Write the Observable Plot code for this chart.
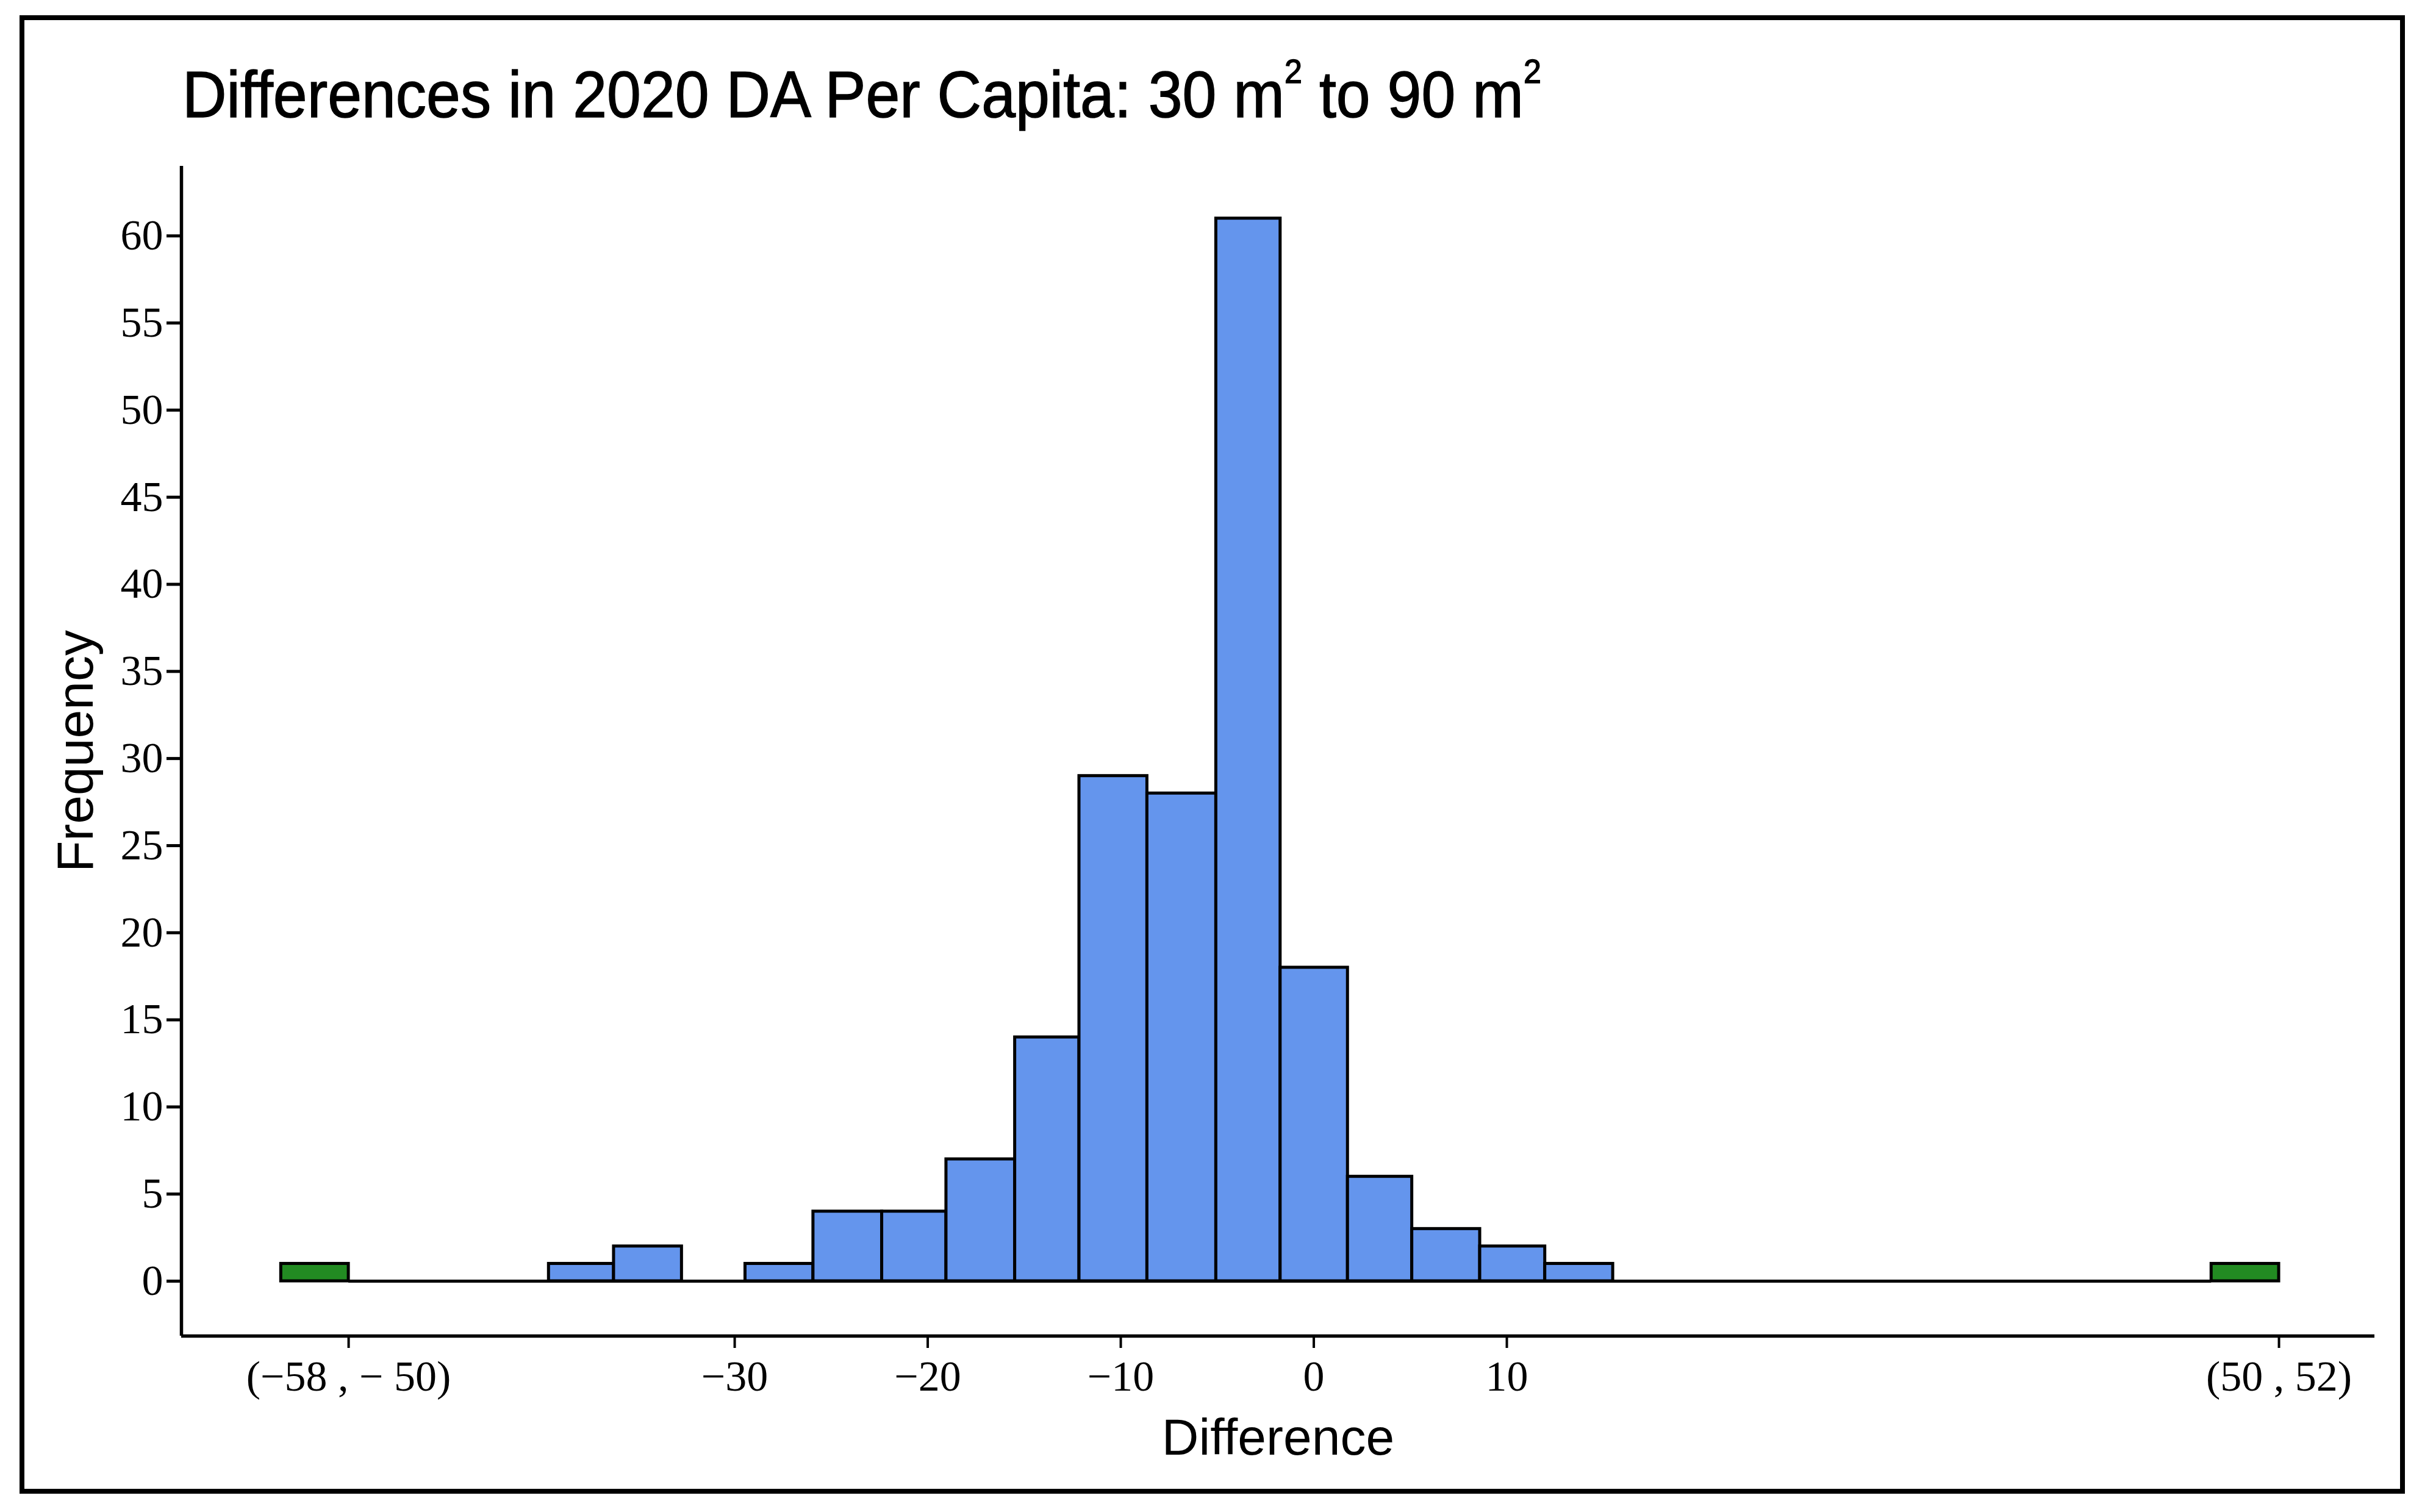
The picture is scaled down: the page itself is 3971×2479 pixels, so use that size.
<!DOCTYPE html>
<html>
<head>
<meta charset="utf-8">
<script src="https://cdn.jsdelivr.net/npm/d3@7"></script>
<script src="https://cdn.jsdelivr.net/npm/@observablehq/plot@0.6"></script>
<style>
  html, body { margin: 0; padding: 0; background: white; }
  #wrap { position: relative; width: 3971px; height: 2479px; overflow: hidden; background: white; }
  #chart { position: absolute; left: 0; top: 0; }
  #title {
    position: absolute; left: 299px; top: 101px;
    font-family: 'Liberation Sans', Arial, sans-serif; font-size: 108px; line-height: 1;
    white-space: nowrap; color: black;
    transform: scaleX(0.93); transform-origin: left top;
    -webkit-text-stroke: 1.5px black;
  }
  #title .sup { font-size: 56px; position: relative; top: -56px; }
  #border {
    position: absolute; left: 32px; top: 25px; width: 3911px; height: 2424px;
    box-sizing: border-box; border: 8px solid black; pointer-events: none;
  }
</style>
</head>
<body>
<div id="wrap">
  <div id="chart"></div>
  <div id="title">Differences in 2020 DA Per Capita: 30 m<span class="sup">2</span> to 90 m<span class="sup">2</span></div>
  <div id="border"></div>
</div>
<script>
// Histogram bin edges (main bins) and counts
const binEdges = [-39.63, -36.26, -32.74, -29.45, -25.93, -22.37, -19.04, -15.48, -12.15, -8.63, -5.06, -1.73, 1.76, 5.09, 8.61, 11.98, 15.50];
const binCounts = [1, 2, 0, 1, 4, 4, 7, 14, 29, 28, 61, 18, 6, 3, 2, 1];

// Outlier bins on the broken axis (green)
const outlierStarts = [-53.5, 46.5];
const outlierEnds = [-50, 50];
const outlierCounts = [1, 1];

// Axis ticks and labels
const xTickValues = [-50, -30, -20, -10, 0, 10, 50];
const xTickLabels = ["(\u221258 , \u2212 50)", "\u221230", "\u221220", "\u221210", "0", "10", "(50 , 52)"];
const yTickValues = [0, 5, 10, 15, 20, 25, 30, 35, 40, 45, 50, 55, 60];

const xDomain = [-58.66, 54.96];
const yDomain = [-3.15, 64];

const sans = "'Liberation Sans', Arial, sans-serif";

const plot = Plot.plot({
  width: 3971,
  height: 2479,
  marginLeft: 297,
  marginRight: 78,
  marginTop: 272,
  marginBottom: 289,
  style: "font-family: 'Liberation Serif', 'Times New Roman', serif; font-size: 70px; background: transparent;",
  x: { domain: xDomain },
  y: { domain: yDomain },
  marks: [
    // zero baseline between the two outlier bins
    Plot.ruleY([0], { x1: outlierEnds[0], x2: outlierStarts[1], stroke: "black", strokeWidth: 5 }),
    Plot.rectY(binCounts, {
      x1: (d, i) => binEdges[i],
      x2: (d, i) => binEdges[i + 1],
      y: d => d,
      fill: "#6495ED",
      stroke: "black",
      strokeWidth: 5
    }),
    Plot.rectY(outlierCounts, {
      x1: (d, i) => outlierStarts[i],
      x2: (d, i) => outlierEnds[i],
      y: d => d,
      fill: "#228B22",
      stroke: "black",
      strokeWidth: 5
    }),
    Plot.axisY({
      ticks: yTickValues,
      tickSize: 24,
      tickPadding: 6,
      fontSize: 70,
      strokeWidth: 5,
      label: null
    }),
    Plot.axisX({
      ticks: xTickValues,
      tickFormat: v => xTickLabels[xTickValues.indexOf(v)],
      tickSize: 20,
      tickPadding: 20,
      fontSize: 70,
      strokeWidth: 4,
      label: null
    }),
    Plot.ruleX([xDomain[0]], { stroke: "black", strokeWidth: 5.5 }),
    Plot.ruleY([yDomain[0]], { stroke: "black", strokeWidth: 5.5 }),
    Plot.text(["Difference"], {
      text: d => d,
      frameAnchor: "bottom",
      textAnchor: "middle",
      dy: 168,
      lineAnchor: "middle",
      fontFamily: sans,
      fontSize: 84,
      fill: "black"
    }),
    Plot.text(["Frequency"], {
      text: d => d,
      frameAnchor: "left",
      textAnchor: "middle",
      rotate: -90,
      dx: -172,
      lineAnchor: "middle",
      fontFamily: sans,
      fontSize: 84,
      fill: "black"
    })
  ]
});
document.getElementById("chart").appendChild(plot);
</script>
</body>
</html>
